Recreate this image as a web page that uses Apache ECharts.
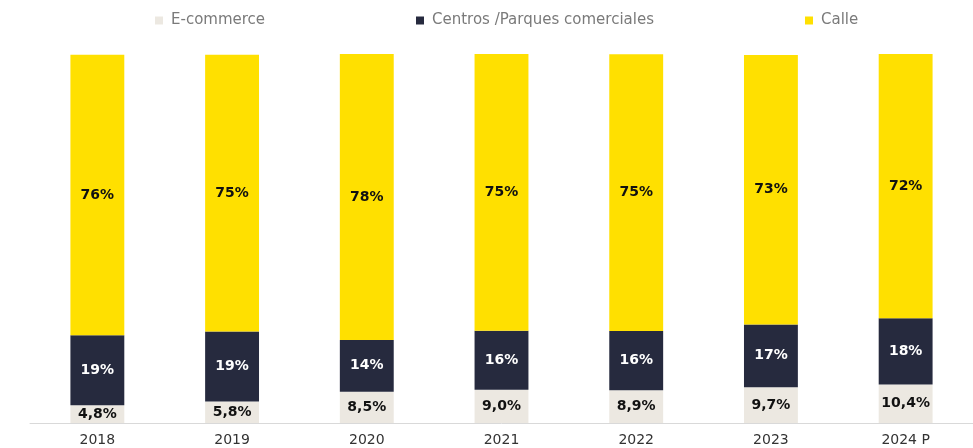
<!DOCTYPE html>
<html>
<head>
<meta charset="utf-8">
<script src="https://cdn.jsdelivr.net/npm/echarts@6/dist/echarts.min.js"></script>
<style>
  html, body { margin: 0; padding: 0; background: #ffffff; }
  #chart { width: 973px; height: 448px; }
</style>
</head>
<body>
<div id="chart"></div>
<script>
// Reparto de ventas minoristas por canal (%)
const years = ['2018', '2019', '2020', '2021', '2022', '2023', '2024 P'];
const ecommerce = [4.8, 5.8, 8.5, 9.0, 8.9, 9.7, 10.4];
const centros = [19, 19, 14, 16, 16, 17, 18];
const calle = [76, 75, 78, 75, 75, 73, 72];
const seriesNames = ['E-commerce', 'Centros /Parques comerciales', 'Calle'];

const FONT = '"DejaVu Sans", sans-serif';
const colors = ['#ECE8E1', '#262A3E', '#FFE000'];

function pct(decimals) {
  return function (p) {
    return p.value.toFixed(decimals).replace('.', ',') + '%';
  };
}

function legendAt(name, left) {
  return {
    data: [name],
    left: left,
    top: 8,
    itemWidth: 8,
    itemHeight: 8,
    itemGap: 5,
    icon: 'rect',
    textStyle: { fontFamily: FONT, fontSize: 15, color: '#7a7a7a', padding: [0, 0, 0, 3] }
  };
}

const chart = echarts.init(document.getElementById('chart'), null, { renderer: 'canvas' });

chart.setOption({
  animation: false,
  color: colors,
  legend: [
    legendAt(seriesNames[0], 150),
    legendAt(seriesNames[1], 411),
    legendAt(seriesNames[2], 800)
  ],
  grid: { left: 30, right: -5, top: 54, bottom: 25, containLabel: false },
  xAxis: {
    type: 'category',
    data: years,
    axisLine: { show: true, lineStyle: { color: '#d9d9d9', width: 1 } },
    axisTick: { show: false },
    axisLabel: { fontFamily: FONT, fontSize: 14, color: '#333333', margin: 10 }
  },
  yAxis: {
    type: 'value',
    min: 0,
    max: 100,
    show: false,
    splitLine: { show: false }
  },
  series: [
    {
      name: seriesNames[0], type: 'bar', stack: 'total', data: ecommerce, barWidth: '40%',
      itemStyle: { color: colors[0] },
      label: { show: true, position: 'inside', formatter: pct(1), fontFamily: FONT, fontWeight: 'bold', fontSize: 14, color: '#111111' }
    },
    {
      name: seriesNames[1], type: 'bar', stack: 'total', data: centros, barWidth: '40%',
      itemStyle: { color: colors[1] },
      label: { show: true, position: 'inside', formatter: pct(0), fontFamily: FONT, fontWeight: 'bold', fontSize: 14, color: '#ffffff' }
    },
    {
      name: seriesNames[2], type: 'bar', stack: 'total', data: calle, barWidth: '40%',
      itemStyle: { color: colors[2] },
      label: { show: true, position: 'inside', formatter: pct(0), fontFamily: FONT, fontWeight: 'bold', fontSize: 14, color: '#111111' }
    }
  ]
});
</script>
</body>
</html>
